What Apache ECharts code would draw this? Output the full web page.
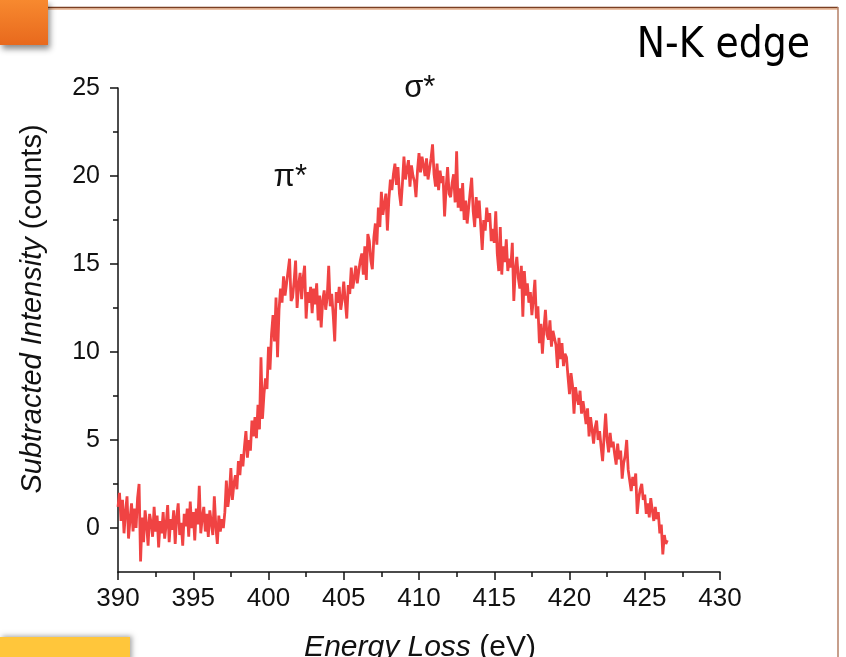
<!DOCTYPE html>
<html>
<head>
<meta charset="utf-8">
<title>N-K edge</title>
<script src="https://cdn.jsdelivr.net/npm/echarts@6/dist/echarts.min.js"></script>
<style>
  html, body { margin: 0; padding: 0; background: #ffffff; }
  #chart { width: 846px; height: 657px; }
</style>
</head>
<body>
<div id="chart"></div>
<script>
// Background-subtracted EELS intensity across the nitrogen K edge
const energyStart = 390;   // eV, first channel
const energyStep = 0.1;    // eV per channel

const intensity = [
  // 390
  1.2, 2.0, 0.4, 1.6, -0.3, 0.9, 1.8, -0.6, 0.5, 1.4,
  // 391
  -0.2, 1.1, 0.0, 1.7, 2.5, -1.9, 0.6, -0.8, 1.0, 0.2,
  // 392
  -1.0, 0.8, 0.3, -0.5, 1.2, -0.2, 0.7, -1.1, 0.4, -0.3,
  // 393
  0.9, -0.6, 0.2, 1.3, -0.8, 0.5, -0.1, 1.0, -0.9, 0.6,
  // 394
  1.4, -0.4, 0.3, -1.0, 0.8, 0.1, 1.1, -0.5, 1.5, 0.0,
  // 395
  0.9, -0.7, 1.1, 0.2, 2.4, -0.3, 0.6, 1.2, -0.2, 0.8,
  // 396
  -0.5, 1.0, 0.3, -0.4, 1.8, 0.1, -0.9, 0.7, -0.2, 0.5,
  // 397
  0.0, 0.9, 2.7, 1.2, 1.9, 3.4, 1.6, 2.5, 3.0, 2.2,
  // 398
  3.8, 3.0, 4.2, 3.5, 4.6, 5.5, 4.0, 5.0, 4.4, 6.1,
  // 399
  5.2, 6.3, 5.1, 7.0, 5.6, 9.7, 6.2, 7.6, 8.5, 7.9,
  // 400
  10.3, 9.0, 11.0, 12.1, 10.6, 13.1, 9.7, 12.4, 13.6, 12.8,
  // 401
  14.3, 13.2, 13.9, 14.6, 15.3, 12.9, 13.1, 14.0, 15.2, 12.5,
  // 402
  13.8, 14.5, 13.0, 14.2, 14.9, 11.9, 13.4, 12.8, 13.7, 12.2,
  // 403
  13.6, 12.7, 13.9, 11.8, 13.2, 11.4, 12.9, 13.5, 12.4, 13.1,
  // 404
  14.9, 12.6, 13.3, 12.1, 10.6, 13.4, 12.8, 13.7, 12.4, 13.0,
  // 405
  14.0, 12.9, 11.9, 13.8, 13.3, 14.8, 13.6, 14.2, 14.9, 13.9,
  // 406
  14.6, 15.2, 15.6, 14.4, 16.0, 14.1, 16.7, 16.3, 15.2, 14.7,
  // 407
  16.5, 17.3, 16.1, 18.2, 17.1, 19.1, 17.8, 18.4, 19.0, 16.9,
  // 408
  18.7, 19.8, 19.2, 20.1, 20.7, 19.5, 20.5, 19.0, 18.3, 19.6,
  // 409
  21.1, 19.8, 20.4, 20.9, 19.4, 20.6, 20.0, 19.7, 18.8, 20.3,
  // 410
  21.3, 20.2, 21.1, 20.6, 20.0, 21.0, 19.8, 20.4, 21.0, 21.8,
  // 411
  20.1, 19.4, 20.7, 19.2, 20.3, 19.6, 20.0, 17.7, 19.3, 20.5,
  // 412
  19.0, 18.8, 19.6, 20.1, 18.5, 21.4, 18.2, 19.3, 18.0, 19.6,
  // 413
  17.5, 18.6, 17.3, 18.2, 19.1, 19.9, 18.0, 17.1, 18.8, 17.6,
  // 414
  18.6, 17.2, 15.8, 17.5, 16.9, 18.2, 17.4, 17.9, 16.3, 17.0,
  // 415
  16.2, 18.0, 15.6, 14.6, 17.1, 14.4, 16.0, 15.1, 16.4, 14.6,
  // 416
  15.3, 14.8, 16.2, 12.9, 14.7, 15.4, 14.2, 13.6, 14.9, 12.0,
  // 417
  14.6, 13.2, 13.9, 12.8, 13.4, 12.1, 13.0, 14.1, 11.9, 12.6,
  // 418
  10.5, 11.6, 9.9, 11.3, 12.4, 11.0, 10.7, 11.8, 10.3, 11.2,
  // 419
  11.2, 10.4, 9.1, 10.8, 9.6, 10.5, 9.2, 9.9, 9.7, 8.6,
  // 420
  7.6, 8.8, 8.1, 6.5, 8.0, 7.4, 7.0, 7.8, 6.5, 7.2,
  // 421
  6.6, 5.9, 6.8, 5.2, 6.3, 5.6, 4.8, 5.7, 6.1, 5.0,
  // 422
  5.5, 4.6, 3.8, 5.2, 6.5, 5.0, 4.3, 5.4, 4.6, 4.9,
  // 423
  4.2, 3.6, 4.8, 3.9, 4.4, 2.8, 3.7, 4.1, 5.0, 3.3,
  // 424
  3.4, 2.1, 2.9, 2.4, 3.1, 0.8, 1.7, 2.2, 2.5, 1.6,
  // 425
  1.9, 0.8, 1.4, 0.6, 1.7, 1.0, 0.4, 1.2, 0.5, 0.9,
  // 426
  -0.3, 0.2, -1.5, -0.4, -0.9, -0.7
];

const yMajorTicks = [0, 5, 10, 15, 20, 25];
const yMinorTicks = [2.5, 7.5, 12.5, 17.5, 22.5];

// Peak labels: [text, energy (eV), intensity]
const peakLabels = [
  ['π*', 401.45, 19.9],
  ['σ*', 410.05, 25.0]
];

const spectrum = intensity.map((v, i) => [+(energyStart + i * energyStep).toFixed(2), v]);

const axisFont = 'Liberation Sans, Arial, sans-serif';
const ink = '#111111';

const chart = echarts.init(document.getElementById('chart'), null, { renderer: 'canvas' });

chart.setOption({
  backgroundColor: '#ffffff',
  animation: false,
  grid: { left: 118, right: 126, top: 88, bottom: 85, containLabel: false },
  xAxis: {
    type: 'value',
    min: 390,
    max: 430,
    interval: 5,
    axisLine: { show: true, onZero: false, lineStyle: { color: ink, width: 1.5 } },
    axisTick: { show: true, inside: false, length: 8, lineStyle: { color: ink, width: 1.5 } },
    minorTick: { show: true, splitNumber: 2, length: 5, lineStyle: { color: ink, width: 1.5 } },
    axisLabel: { color: ink, fontSize: 26, fontFamily: axisFont, margin: 14 },
    splitLine: { show: false }
  },
  yAxis: [
    {
      type: 'value',
      min: -2.5,
      max: 25,
      interval: 2.5,
      axisLine: { show: true, onZero: false, lineStyle: { color: ink, width: 1.5 } },
      axisTick: { show: true, inside: false, length: 8, customValues: yMajorTicks, lineStyle: { color: ink, width: 1.5 } },
      axisLabel: { color: ink, fontSize: 25, fontFamily: axisFont, margin: 18, customValues: yMajorTicks },
      splitLine: { show: false }
    },
    {
      type: 'value',
      position: 'left',
      min: -2.5,
      max: 25,
      interval: 2.5,
      axisLine: { show: false },
      axisTick: { show: true, inside: false, length: 5, customValues: yMinorTicks, lineStyle: { color: ink, width: 1.5 } },
      axisLabel: { show: false },
      splitLine: { show: false }
    }
  ],
  series: [
    {
      type: 'line',
      data: spectrum,
      xAxisIndex: 0,
      yAxisIndex: 0,
      showSymbol: false,
      symbol: 'none',
      lineStyle: { color: '#f04343', width: 2.8 },
      z: 3,
      markPoint: {
        symbol: 'circle',
        symbolSize: 0,
        silent: true,
        label: {
          show: true,
          position: 'inside',
          color: ink,
          fontSize: 31,
          fontFamily: axisFont,
          formatter: p => p.name
        },
        data: peakLabels.map(([name, e, v]) => ({ name, coord: [e, v] }))
      }
    }
  ],
  graphic: [
    // orange corner block
    {
      type: 'rect',
      shape: { x: 0, y: 0, width: 48, height: 45 },
      style: {
        fill: new echarts.graphic.LinearGradient(0, 0, 0, 1, [
          { offset: 0, color: '#f7892f' },
          { offset: 1, color: '#e8691d' }
        ]),
        shadowBlur: 6,
        shadowOffsetX: 2,
        shadowOffsetY: 4,
        shadowColor: 'rgba(0,0,0,0.45)'
      },
      z: 10
    },
    // header rule
    {
      type: 'line',
      shape: { x1: 48, y1: 7.5, x2: 838, y2: 7.5 },
      style: { stroke: '#7a3f22', lineWidth: 1.5 },
      z: 5
    },
    {
      type: 'line',
      shape: { x1: 48, y1: 9, x2: 838, y2: 9 },
      style: { stroke: '#d98a55', lineWidth: 1 },
      z: 5
    },
    // right rule
    {
      type: 'line',
      shape: { x1: 838, y1: 7, x2: 838, y2: 657 },
      style: { stroke: '#b57f66', lineWidth: 1.5 },
      z: 5
    },
    // yellow footer block
    {
      type: 'rect',
      shape: { x: 0, y: 637, width: 130, height: 25 },
      style: {
        fill: '#ffc63b',
        shadowBlur: 5,
        shadowOffsetX: 2,
        shadowOffsetY: -1,
        shadowColor: 'rgba(0,0,0,0.35)'
      },
      z: 10
    },
    // slide heading
    {
      type: 'text',
      x: 810,
      y: 46,
      style: {
        text: 'N-K edge',
        fill: '#000000',
        font: '42px "Liberation Sans Narrow", "DejaVu Sans Condensed", sans-serif',
        align: 'right',
        verticalAlign: 'middle'
      },
      z: 10
    },
    // y-axis title
    {
      type: 'text',
      x: 33,
      y: 309,
      rotation: Math.PI / 2,
      style: {
        text: '{i|Subtracted Intensity }{n|(counts)}',
        align: 'center',
        verticalAlign: 'middle',
        rich: {
          i: { fontSize: 29, fontStyle: 'italic', fontFamily: axisFont, fill: ink },
          n: { fontSize: 29, fontFamily: axisFont, fill: ink }
        }
      },
      z: 10
    },
    // x-axis title
    {
      type: 'text',
      x: 420,
      y: 648,
      style: {
        text: '{i|Energy Loss }{n|(eV)}',
        align: 'center',
        verticalAlign: 'middle',
        rich: {
          i: { fontSize: 30, fontStyle: 'italic', fontFamily: axisFont, fill: ink },
          n: { fontSize: 30, fontFamily: axisFont, fill: ink }
        }
      },
      z: 10
    }
  ]
});
</script>
</body>
</html>
